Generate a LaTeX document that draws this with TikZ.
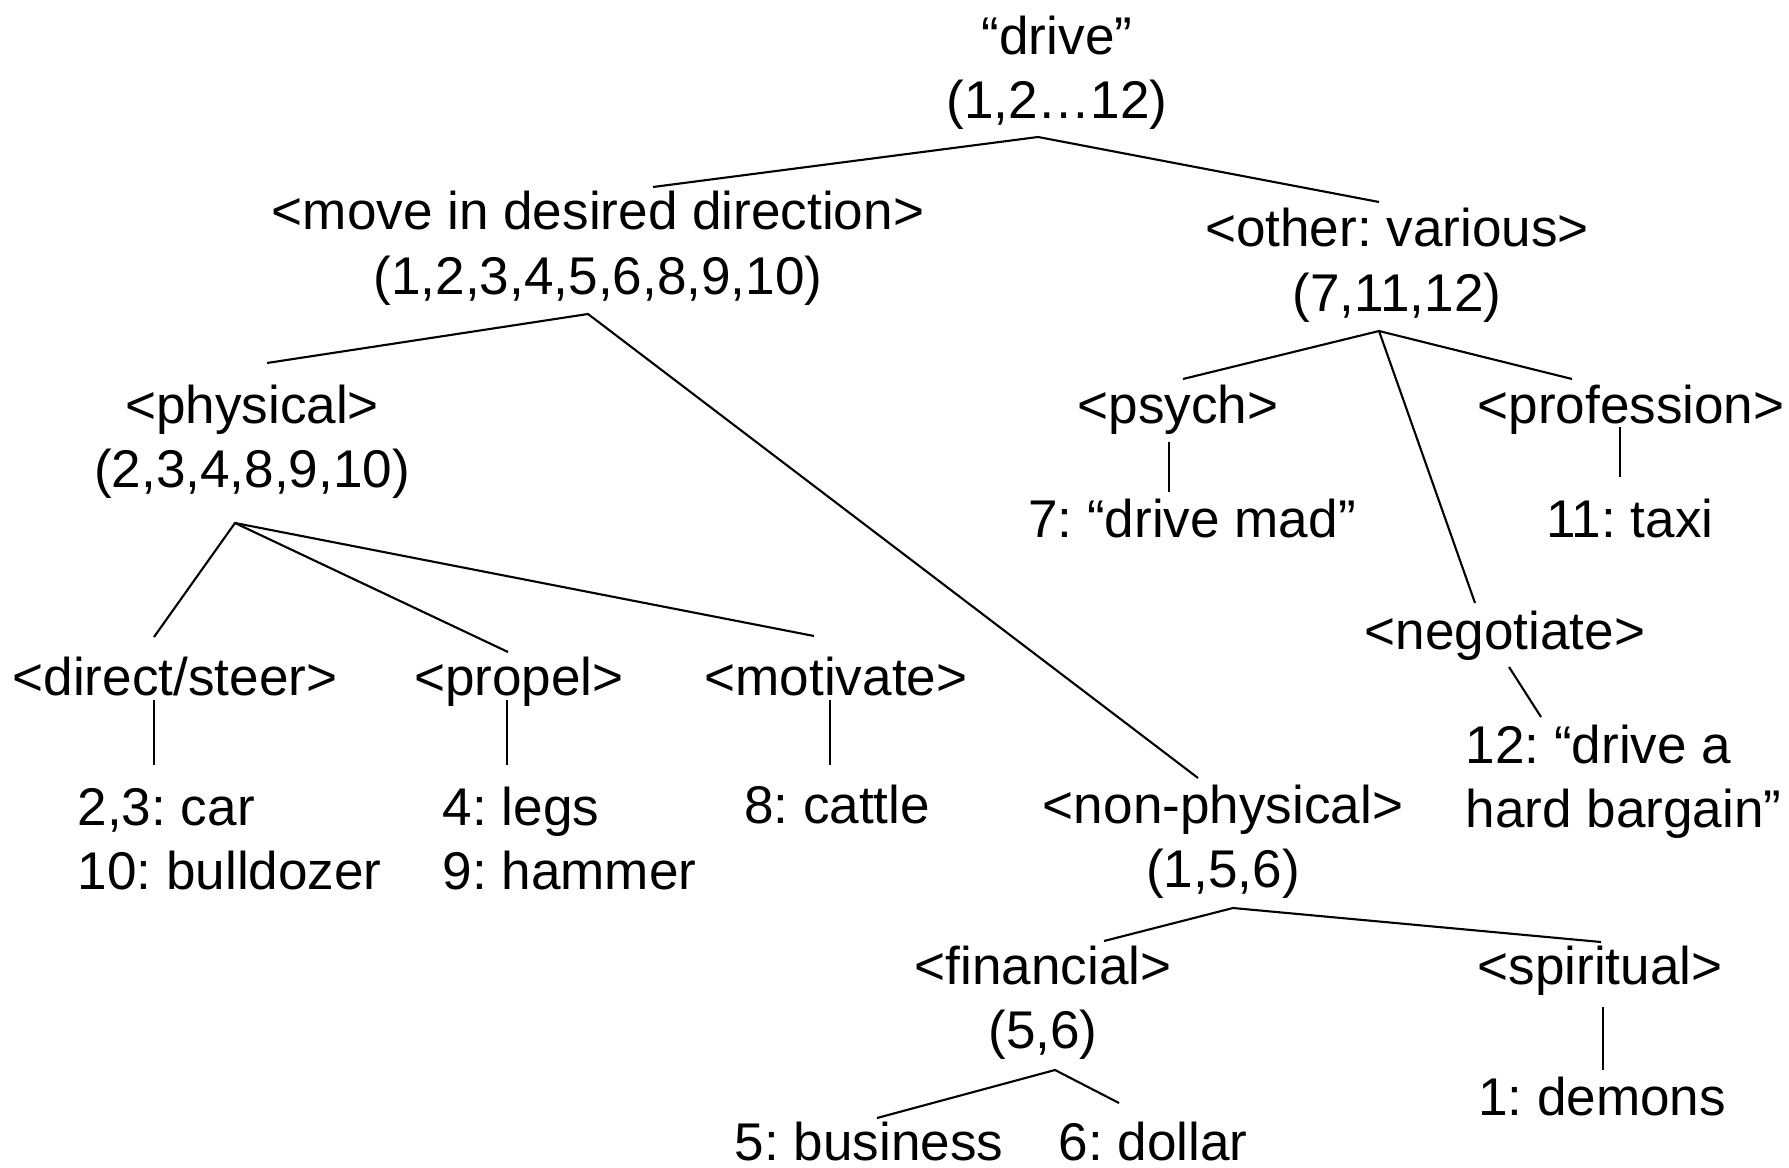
\documentclass[tikz,border=0pt]{standalone}
\usepackage{fontspec}
\setmainfont{Liberation Sans}
\frenchspacing
\begin{document}
\begin{tikzpicture}[x=0.01cm,y=-0.01cm,
  lbl/.style={anchor=base,inner sep=0pt,font=\fontsize{15.1pt}{18.2pt}\selectfont},
  lblw/.style={lbl,anchor=base west},
  edge/.style={line width=0.6pt,black}]
\fill[white] (0,0) rectangle (1789,1167);
\useasboundingbox (0,0) rectangle (1789,1167);

% sense labels
\node[lbl] (drive) at (1057,55) {\begin{tabular}[t]{@{}c@{}}“drive”\\(1,2…12)\end{tabular}};
\node[lbl] (move) at (598,230) {\begin{tabular}[t]{@{}c@{}}<move in desired direction>\\(1,2,3,4,5,6,8,9,10)\end{tabular}};
\node[lbl] (other) at (1397,247) {\begin{tabular}[t]{@{}c@{}}<other: various>\\(7,11,12)\end{tabular}};
\node[lbl] (physical) at (252,423) {\begin{tabular}[t]{@{}c@{}}<physical>\\(2,3,4,8,9,10)\end{tabular}};
\node[lbl] (nonphys) at (1223,823) {\begin{tabular}[t]{@{}c@{}}<non-physical>\\(1,5,6)\end{tabular}};
\node[lbl] (psych) at (1178,423) {<psych>};
\node[lbl] (profession) at (1631,423) {<profession>};
\node[lbl] (drivemad) at (1192,537) {7: “drive mad”};
\node[lbl] (taxi) at (1630,537) {11: taxi};
\node[lbl] (negotiate) at (1505,649) {<negotiate>};
\node[lblw] (bargain) at (1465,763) {\begin{tabular}[t]{@{}l@{}}12: “drive a\\hard bargain”\end{tabular}};
\node[lbl] (direct) at (175,695) {<direct/steer>};
\node[lbl] (propel) at (519,695) {<propel>};
\node[lbl] (motivate) at (836,695) {<motivate>};
\node[lblw] (car) at (77,825) {\begin{tabular}[t]{@{}l@{}}2,3: car\\10: bulldozer\end{tabular}};
\node[lblw] (legs) at (442,825) {\begin{tabular}[t]{@{}l@{}}4: legs\\9: hammer\end{tabular}};
\node[lbl] (cattle) at (837,823) {8: cattle};
\node[lbl] (financial) at (1043,984) {\begin{tabular}[t]{@{}c@{}}<financial>\\(5,6)\end{tabular}};
\node[lbl] (spiritual) at (1600,984) {<spiritual>};
\node[lbl] (demons) at (1602,1115) {1: demons};
\node[lbl] (business) at (869,1160) {5: business};
\node[lbl] (dollar) at (1153,1160) {6: dollar};

% tree edges
\draw[edge] ([shift={(55,-43)}]move.base) -- ([shift={(-19,82)}]drive.base) -- ([shift={(-18,-45)}]other.base);
\draw[edge] ([shift={(15,-60)}]physical.base) -- ([shift={(-10,84)}]move.base) -- ([shift={(-25,-45)}]nonphys.base);
\draw[edge] ([shift={(5,-44)}]psych.base) -- ([shift={(-18,84)}]other.base) -- ([shift={(-59,-44)}]profession.base);
\draw[edge] ([shift={(-18,84)}]other.base) -- ([shift={(-30,-46)}]negotiate.base);
\draw[edge] ([shift={(-9,19)}]psych.base) -- ([shift={(-23,-45)}]drivemad.base);
\draw[edge] ([shift={(-11,4)}]profession.base) -- ([shift={(-10,-60)}]taxi.base);
\draw[edge] ([shift={(4,18)}]negotiate.base) -- ([shift={(76,-46)}]bargain.base west);
\draw[edge] ([shift={(-21,-58)}]direct.base) -- ([shift={(-17,100)}]physical.base) -- ([shift={(-22,-59)}]motivate.base);
\draw[edge] ([shift={(-17,100)}]physical.base) -- ([shift={(-11,-43)}]propel.base);
\draw[edge] ([shift={(-21,5)}]direct.base) -- ([shift={(77,-60)}]car.base west);
\draw[edge] ([shift={(-12,5)}]propel.base) -- ([shift={(65,-60)}]legs.base west);
\draw[edge] ([shift={(-6,5)}]motivate.base) -- ([shift={(-7,-58)}]cattle.base);
\draw[edge] ([shift={(61,-43)}]financial.base) -- ([shift={(10,85)}]nonphys.base) -- ([shift={(1,-42)}]spiritual.base);
\draw[edge] ([shift={(3,23)}]spiritual.base) -- ([shift={(1,-45)}]demons.base);
\draw[edge] ([shift={(8,-42)}]business.base) -- ([shift={(12,86)}]financial.base) -- ([shift={(-34,-57)}]dollar.base);
\end{tikzpicture}
\end{document}
